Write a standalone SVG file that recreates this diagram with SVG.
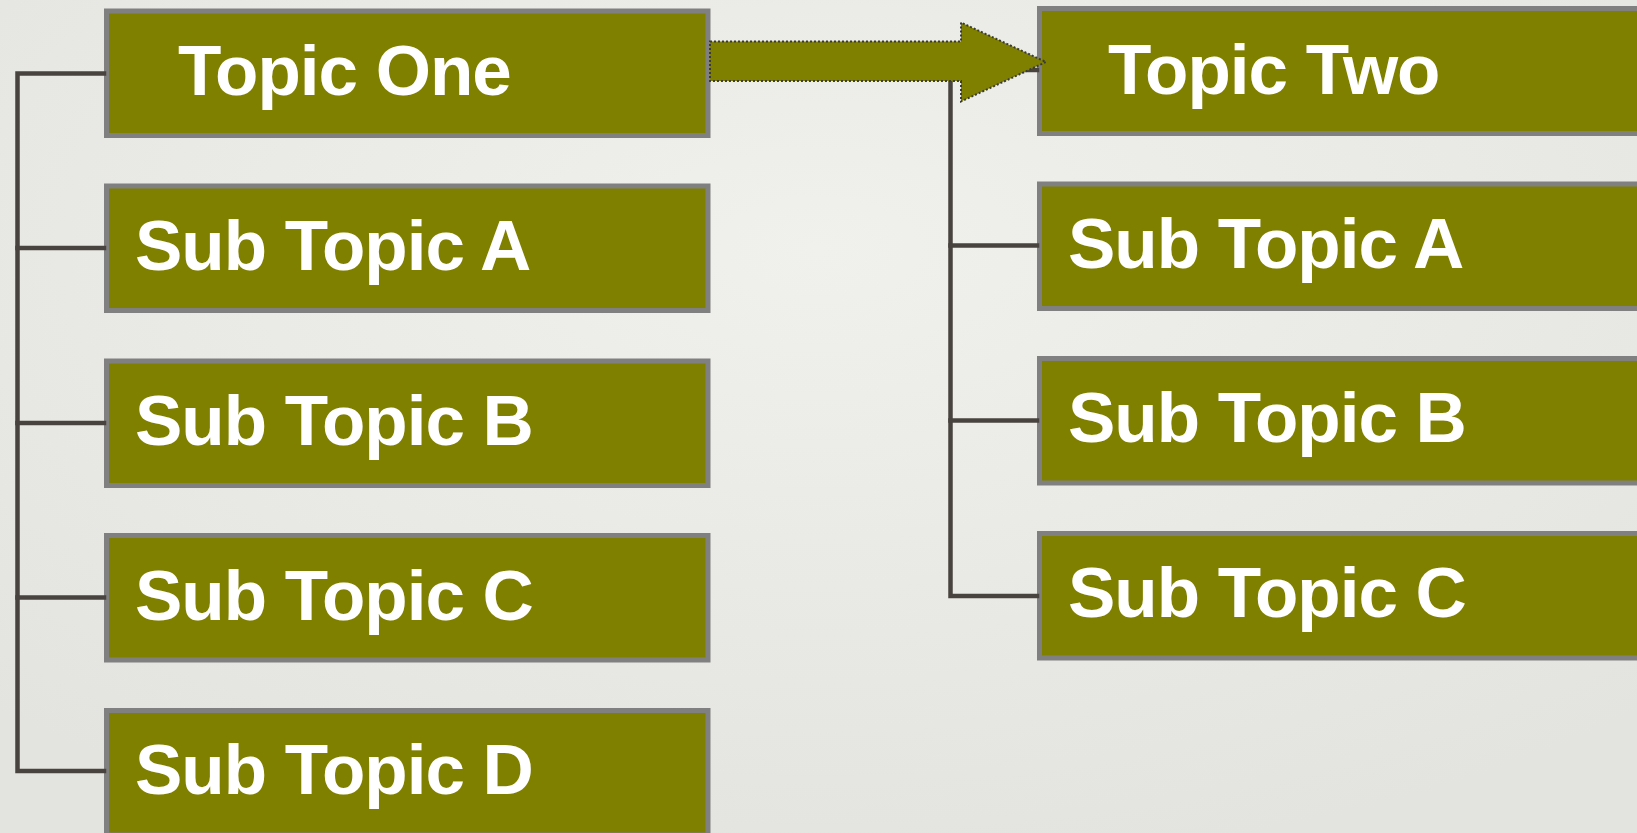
<svg xmlns="http://www.w3.org/2000/svg" width="1637" height="833" viewBox="0 0 1637 833">
  <defs>
    <radialGradient id="bg" cx="50%" cy="30%" r="75%">
      <stop offset="0" stop-color="#f0f0ec"/>
      <stop offset="1" stop-color="#e3e3df"/>
    </radialGradient>
    <style>
      .box { fill: #808000; stroke: #808080; stroke-width: 5; }
      .lbl { fill: #ffffff; font-family: "Liberation Sans", Arial, sans-serif; font-weight: bold; font-size: 71px; letter-spacing: -1px; }
      .ln { stroke: #48433f; stroke-width: 4.5; fill: none; stroke-linecap: square; }
      .arrow { fill: #808000; stroke: #3a3a3a; stroke-width: 2; stroke-dasharray: 2 2; }
    </style>
  </defs>
  <rect x="0" y="0" width="1637" height="833" fill="url(#bg)"/>

  <g id="topic-one">
    <rect class="box" x="106.5" y="11" width="601.5" height="124.5"/>
    <text class="lbl" x="178" y="95">Topic One</text>
  </g>
  <g id="left-sub-a">
    <rect class="box" x="106.5" y="186" width="601.5" height="124.5"/>
    <text class="lbl" x="135" y="270">Sub Topic A</text>
  </g>
  <g id="left-sub-b">
    <rect class="box" x="106.5" y="361" width="601.5" height="124.5"/>
    <text class="lbl" x="135" y="445">Sub Topic B</text>
  </g>
  <g id="left-sub-c">
    <rect class="box" x="106.5" y="535.5" width="601.5" height="124.5"/>
    <text class="lbl" x="135" y="619.5">Sub Topic C</text>
  </g>
  <g id="left-sub-d">
    <rect class="box" x="106.5" y="710.5" width="601.5" height="124.5"/>
    <text class="lbl" x="135" y="794">Sub Topic D</text>
  </g>

  <g id="topic-two">
    <rect class="box" x="1039.5" y="8.5" width="620" height="125"/>
    <text class="lbl" x="1108" y="94">Topic Two</text>
  </g>
  <g id="right-sub-a">
    <rect class="box" x="1039.5" y="184" width="620" height="124.5"/>
    <text class="lbl" x="1068" y="267.5">Sub Topic A</text>
  </g>
  <g id="right-sub-b">
    <rect class="box" x="1039.5" y="358.5" width="620" height="124.5"/>
    <text class="lbl" x="1068" y="442">Sub Topic B</text>
  </g>
  <g id="right-sub-c">
    <rect class="box" x="1039.5" y="533.5" width="620" height="124.5"/>
    <text class="lbl" x="1068" y="617">Sub Topic C</text>
  </g>

  <g id="connectors">
    <path class="ln" d="M104 73.5 H17.5 V771 H104"/>
    <path class="ln" d="M17.5 248 H104 M17.5 423 H104 M17.5 597.5 H104"/>
    <path class="ln" d="M1037 70 H950.5 V596 H1037"/>
    <path class="ln" d="M950.5 245.5 H1037 M950.5 420.5 H1037"/>
    <polygon class="arrow" points="710,41.5 961,41.5 961,22.5 1046,62 961,101.5 961,81 710,81"/>
  </g>
</svg>
